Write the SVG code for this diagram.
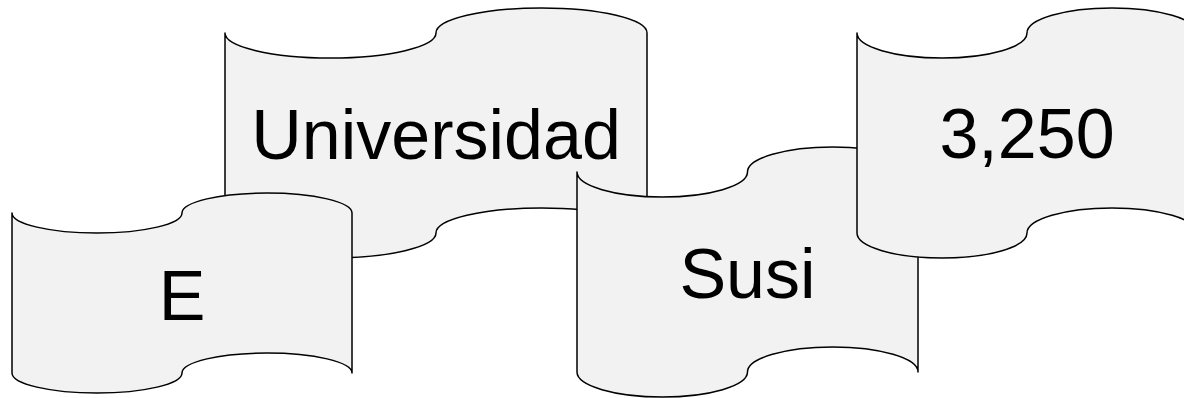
<svg xmlns="http://www.w3.org/2000/svg" width="1184" height="398" viewBox="0 0 1184 398">
<style>
.tape{fill:#f2f2f2;stroke:#000;stroke-width:1.5;stroke-linejoin:round}
.lbl{font-family:"Liberation Sans",Arial,sans-serif;font-size:70px;fill:#000;text-anchor:middle}
</style>
<rect width="1184" height="398" fill="#fff"/>
<g id="connectors"/>
<g id="node-universidad">
<path class="tape" d="M225,33 A105.5,25 0 0 0 436,33 A105.5,25 0 0 1 647,33 L647,233 A105.5,25 0 0 0 436,233 A105.5,25 0 0 1 225,233 Z"/>
<text class="lbl" x="436" y="159">Universidad</text>
</g>
<g id="node-e">
<path class="tape" d="M12,213 A85,20 0 0 0 182,213 A85,20 0 0 1 352,213 L352,373 A85,20 0 0 0 182,373 A85,20 0 0 1 12,373 Z"/>
<text class="lbl" x="182" y="320">E</text>
</g>
<g id="node-susi">
<path class="tape" d="M577,172 A85.25,25 0 0 0 747.5,172 A85.25,25 0 0 1 918,172 L918,372 A85.25,25 0 0 0 747.5,372 A85.25,25 0 0 1 577,372 Z"/>
<text class="lbl" x="747.5" y="298">Susi</text>
</g>
<g id="node-3250">
<path class="tape" d="M857,33 A85,25 0 0 0 1027,33 A85,25 0 0 1 1197,33 L1197,233 A85,25 0 0 0 1027,233 A85,25 0 0 1 857,233 Z"/>
<text class="lbl" x="1027" y="158">3,250</text>
</g>
</svg>
